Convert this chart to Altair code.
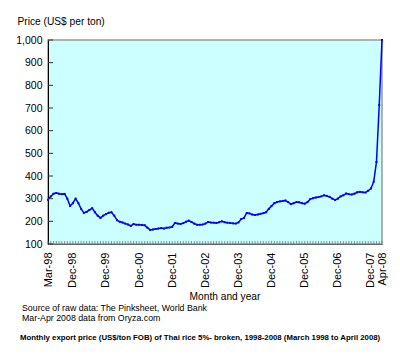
import altair as alt
import pandas as pd

# Monthly price, Mar-98 (index 0) to Apr-08 (index 121), US$ per ton
prices = [
    295, 310, 322, 325, 322, 320, 321, 300, 268, 280,          # Mar-98..Dec-98
    300, 280, 255, 237, 242, 250, 258, 240, 225, 215, 225, 232, # 1999
    238, 240, 225, 205, 198, 195, 190, 186, 180, 188, 185, 185, # 2000
    184, 183, 172, 162, 164, 166, 168, 170, 168, 172, 173, 176, # 2001
    193, 190, 188, 192, 198, 203, 197, 190, 185, 185, 186, 190, # 2002
    197, 195, 194, 193, 196, 200, 196, 194, 193, 191, 190, 195, # 2003
    210, 215, 237, 235, 230, 228, 230, 233, 236, 240, 255, 268, # 2004
    280, 285, 288, 290, 292, 285, 276, 280, 285, 284, 280, 278, # 2005
    285, 298, 302, 305, 307, 310, 315, 312, 308, 300, 294, 300, # 2006
    310, 315, 323, 320, 318, 322, 328, 330, 328, 327, 335, 345, # 2007
    375, 462, 713, 1000,                                        # Jan-08..Apr-08
]
tick_idx = [0, 9, 21, 33, 45, 57, 69, 81, 93, 105, 117, 121]
tick_labels = ["Mar-98", "Dec-98", "Dec-99", "Dec-00", "Dec-01", "Dec-02",
               "Dec-03", "Dec-04", "Dec-05", "Dec-06", "Dec-07", "Apr-08"]
y_ticks = [100, 200, 300, 400, 500, 600, 700, 800, 900, 1000]

y_title = "Price (US$ per ton)"
x_title = "Month and year"
source_lines = ["Source of raw data: The Pinksheet, World Bank",
                "Mar-Apr 2008 data from Oryza.com"]
caption = ("Monthly export price (US$/ton FOB) of Thai rice 5%- broken, "
           "1998-2008 (March 1998 to April 2008)")

df = pd.DataFrame({"i": list(range(len(prices))), "price": prices})
yt = pd.DataFrame({"price": y_ticks})

W, H = 334, 204
FONT = "Liberation Sans"

label_expr = ("[" + ",".join("'%s'" % s for s in tick_labels) + "][indexof(["
              + ",".join(str(v) for v in tick_idx) + "], datum.value)]")

xscale = alt.Scale(domain=[0, 121], nice=False, zero=False)
yscale = alt.Scale(domain=[100, 1000], nice=False, zero=False)
xaxis = alt.Axis(values=tick_idx, labelExpr=label_expr, labelAngle=-90,
                 labelOverlap=False, labelBound=False, labelFlush=False,
                 ticks=False, grid=False, title=None, domainColor="#666666",
                 labelFont=FONT, labelFontSize=11, labelColor="black",
                 labelPadding=8)
yaxis = alt.Axis(values=y_ticks, format=",d", ticks=False, grid=False,
                 labelOverlap=False, labelFlush=False, labelBound=False,
                 domainColor="black", labelFont=FONT, labelFontSize=10.5,
                 labelColor="black", labelPadding=6,
                 title=y_title, titleAngle=0, titleX=-31, titleY=-16,
                 titleAlign="left", titleBaseline="alphabetic",
                 titleFont=FONT, titleFontSize=10.2, titleFontWeight="normal",
                 titleColor="black")

line = alt.Chart(df).mark_line(
    color="#0000FF", strokeWidth=1.5,
    point=alt.OverlayMarkDef(shape="square", size=4, filled=True, color="#0000FF"),
).encode(x=alt.X("i:Q", scale=xscale, axis=xaxis),
         y=alt.Y("price:Q", scale=yscale, axis=yaxis))

xticks = alt.Chart(df).mark_rule(color="#777777", strokeWidth=0.8).encode(
    x=alt.X("i:Q", scale=xscale, axis=xaxis), y=alt.value(H - 3), y2=alt.value(H))

yticks = alt.Chart(yt).mark_rule(color="#333333", strokeWidth=1).encode(
    y=alt.Y("price:Q", scale=yscale, axis=yaxis), x=alt.value(0), x2=alt.value(5))

def text_layer(txt, px, py, align="left", size=9, weight="normal"):
    return alt.Chart(pd.DataFrame({"t": [txt]})).mark_text(
        align=align, baseline="middle", font=FONT, fontSize=size,
        fontWeight=weight, color="black").encode(
        x=alt.value(px), y=alt.value(py), text="t:N")

texts = [
    text_layer(x_title, 177, 257, align="center", size=10.2),
    text_layer(source_lines[0], -26, 268, size=8.8),
    text_layer(source_lines[1], -26, 278, size=8.8),
    text_layer(caption, -28, 298, size=7.8, weight="bold"),
]

chart = alt.layer(line, xticks, yticks, *texts).properties(
    width=W, height=H,
    autosize=alt.AutoSizeParams(type="none"),
    padding={"left": 40, "top": 32, "right": 10, "bottom": 105},
    background="white",
).configure_view(fill="#CCFFFF", stroke="#999999", strokeWidth=1.5
).configure_axis(labelOverlap=False)

chart.save("out.html", embed_options={"renderer": "svg", "actions": False})
